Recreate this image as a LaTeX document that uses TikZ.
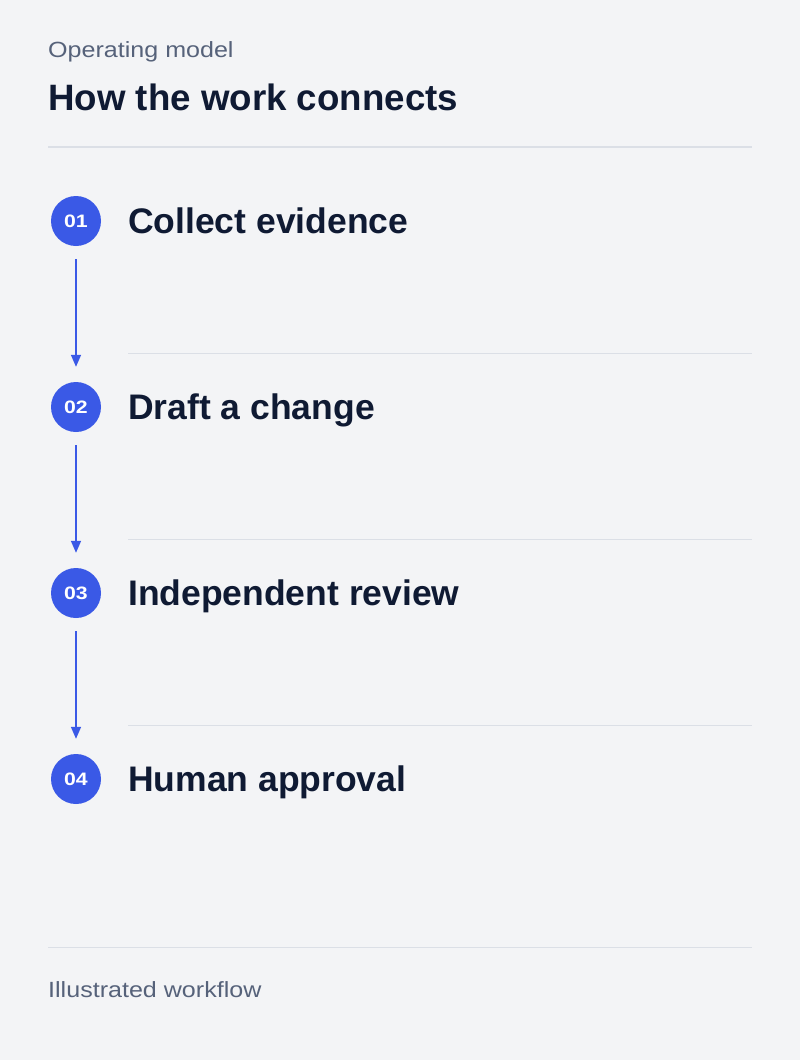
\documentclass[tikz,border=0pt]{standalone}
\usepackage{fontspec}
\setmainfont{Liberation Sans}
\newfontfamily\regfont{Liberation Sans}[FakeStretch=1.14]
\newfontfamily\numfont{Liberation Sans}[FakeStretch=1.18]
\usetikzlibrary{arrows.meta}
\definecolor{bg}{HTML}{F3F4F6}
\definecolor{rulec}{HTML}{DBDFE6}
\definecolor{ink}{HTML}{0F1A33}
\definecolor{muted}{HTML}{56627A}
\definecolor{accent}{HTML}{3A59E6}
\tikzset{
  stepdot/.style={circle, fill=accent, minimum size=50pt, inner sep=0pt, text=white, font=\numfont\fontsize{18}{20}\selectfont\bfseries},
  steplabel/.style={anchor=base west, inner sep=0pt, text=ink, font=\fontsize{35.5}{40}\selectfont\bfseries},
  smalltext/.style={anchor=base west, inner sep=0pt, text=muted, font=\regfont\fontsize{22}{26}\selectfont},
  flow/.style={draw=accent, line width=1.5pt, -{Triangle[length=12pt,width=10pt]}},
  sep/.style={draw=rulec, line width=1.6pt},
}
\begin{document}
\begin{tikzpicture}[x=1pt,y=-1pt]
\fill[bg] (0,0) rectangle (800,1060);
\useasboundingbox (0,0) rectangle (800,1060);
\node[smalltext] (kicker) at (48,57.3) {Operating model};
\node[anchor=base west, inner sep=0pt, text=ink, font=\fontsize{36.7}{42}\selectfont\bfseries] (title) at (48,110.5) {How the work connects};
\draw[sep] (48,147) coordinate (t1) -- (752,147) coordinate (t2);
\foreach \i/\c/\t in {1/221/Collect evidence, 2/407/Draft a change, 3/593/Independent review, 4/779/Human approval}{
  \node[stepdot] (c\i) at (76,\c) {0\i};
  \node[steplabel] (l\i) at (128,\c+12.5) {\t};
}
\foreach \i/\c in {1/221,2/407,3/593}{
  \draw[sep] (128,\c+132.5) coordinate (s\i a) -- (752,\c+132.5) coordinate (s\i b);
}
\draw[flow] ([yshift=-13pt]c1.south) -- ([yshift=15pt]c2.north);
\draw[flow] ([yshift=-13pt]c2.south) -- ([yshift=15pt]c3.north);
\draw[flow] ([yshift=-13pt]c3.south) -- ([yshift=15pt]c4.north);
\draw[sep] (48,947.5) coordinate (f1) -- (752,947.5) coordinate (f2);
\node[smalltext] (footer) at (48,997.5) {Illustrated workflow};
\end{tikzpicture}
\end{document}
